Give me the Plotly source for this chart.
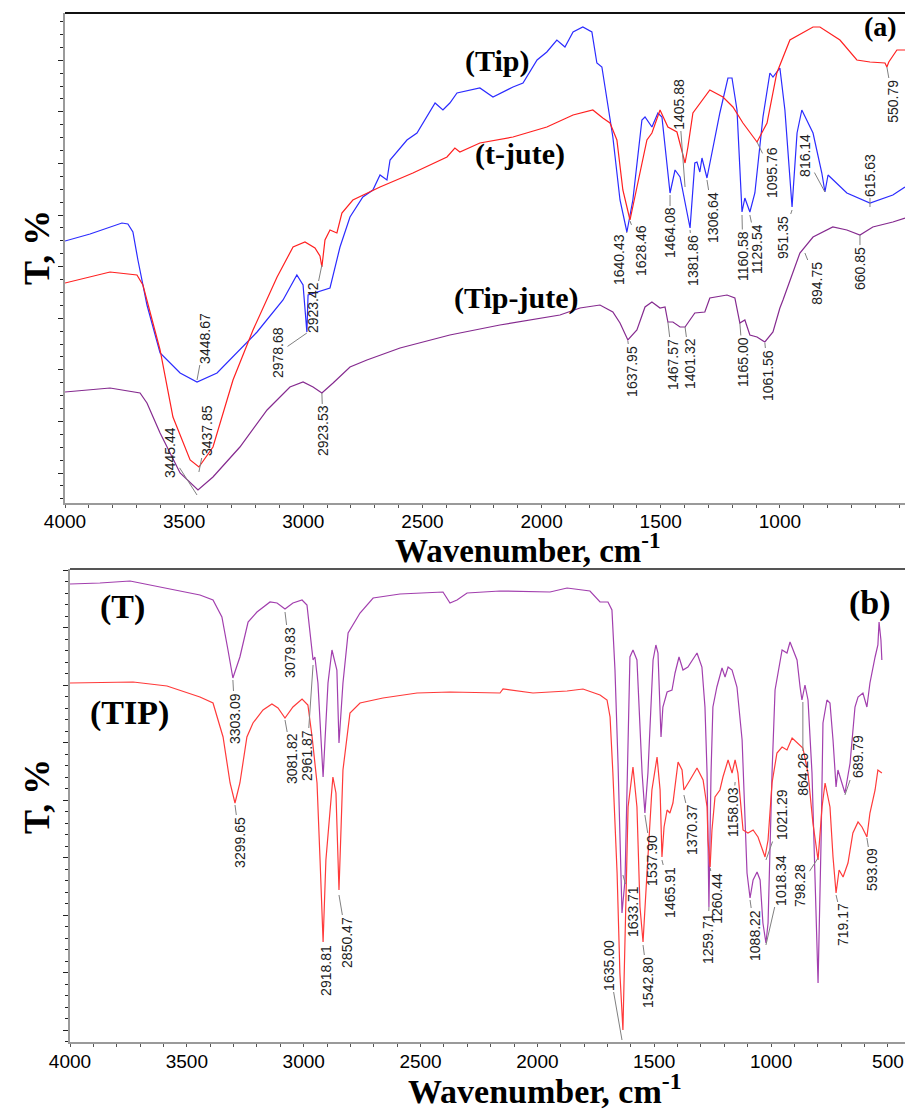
import plotly.graph_objects as go

# ---------------- DATA (wavenumber cm-1, transmittance in arbitrary % units) ----------------
# Panel (a)
tip_wn = [4000, 3895, 3761, 3736, 3715, 3694, 3656, 3601, 3517, 3446, 3362, 3266, 3194, 3085, 3027, 3001,
          2985, 2980, 2951, 2930, 2888, 2846, 2804, 2750, 2708, 2678, 2649, 2636, 2565, 2523, 2481, 2447,
          2414, 2385, 2355, 2259, 2204, 2120, 2078, 2019, 1978, 1936, 1902, 1868, 1827, 1789, 1768, 1747,
          1701, 1671, 1642, 1617, 1579, 1566, 1537, 1512, 1495, 1461, 1440, 1419, 1377, 1357, 1348, 1336,
          1327, 1306, 1252, 1218, 1201, 1180, 1159, 1147, 1126, 1105, 1071, 1042, 1029, 1000, 979, 949,
          928, 908, 861, 824, 811, 798, 719, 622, 526, 475]
tip_t = [52.4, 53.8, 56, 55.8, 54.2, 48.6, 39.6, 30, 26, 24.2, 26, 30.6, 34.2, 40.6, 45.6, 43.6,
         34.2, 41.6, 42, 42.4, 43, 51.2, 57.2, 61.2, 62.6, 65.6, 64.6, 68.6, 72.6, 74, 77.2, 80,
         78.6, 80, 82, 83, 81.2, 83.2, 84, 88.6, 90.2, 92.6, 91.2, 94.2, 95.2, 94.2, 88, 87.2,
         73.2, 60.6, 54.2, 60.6, 76.6, 77.2, 75.2, 78, 77.2, 62, 66.6, 65.2, 55, 68, 68.2, 66.2,
         69, 65, 78, 85, 85, 78.6, 58.2, 61, 58.2, 62, 77.2, 86, 85.2, 87, 78.6, 59.2,
         74, 78.6, 74, 66, 62.2, 65.6, 62, 60, 61.6, 63.2]

tjute_wn = [4000, 3811, 3698, 3673, 3601, 3547, 3475, 3438, 3379, 3295, 3211, 3110, 3043, 2993, 2951, 2930,
            2922, 2909, 2888, 2859, 2838, 2792, 2678, 2540, 2397, 2364, 2343, 2259, 2120, 1978, 1868, 1785,
            1743, 1713, 1684, 1659, 1629, 1600, 1558, 1537, 1503, 1470, 1432, 1398, 1386, 1365, 1294, 1239,
            1197, 1155, 1096, 1054, 1013, 958, 861, 832, 748, 677, 622, 559, 551, 543, 509, 475]
tjute_t = [44, 46.2, 45.6, 43.6, 30.6, 17.2, 8.6, 7.2, 11.2, 24.6, 34.6, 45.2, 51.2, 52.2, 51, 49.4,
           47.2, 52.6, 54.6, 54, 58, 60.6, 63.2, 66, 69.2, 71, 70.2, 72, 73.2, 75.2, 77.6, 78.6,
           77, 76, 72.6, 62.6, 56.6, 63.2, 72.6, 74, 78.6, 75.2, 74.2, 68, 71.2, 78, 82.6, 81.2,
           79.2, 76, 72.2, 76, 86, 92.6, 95.2, 95.2, 92.6, 88.6, 88.2, 88, 87.2, 88.2, 90.6, 90.6]

tipjute_wn = [4000, 3811, 3685, 3656, 3601, 3517, 3442, 3379, 3266, 3152, 3056, 3001, 2959, 2922, 2875, 2804,
              2733, 2594, 2385, 2175, 1923, 1839, 1755, 1701, 1671, 1638, 1600, 1566, 1537, 1503, 1482, 1470,
              1449, 1419, 1398, 1357, 1315, 1294, 1222, 1189, 1168, 1147, 1126, 1096, 1063, 1029, 1000, 987,
              916, 861, 778, 719, 664, 610, 526, 475]
tipjute_t = [22.2, 23, 22, 20, 14, 6, 2.6, 5.2, 11.2, 18.6, 23.2, 24.2, 23.2, 22, 24, 27.2,
             28.6, 31, 33.6, 35.6, 37.6, 39, 39.6, 38.2, 36, 32.6, 34.6, 39.2, 40.2, 39, 39.2, 36.2,
             36.2, 35.2, 35.2, 38, 38.2, 41, 41.6, 41, 36, 36.6, 33.6, 33.2, 32.2, 34.2, 39, 40.6,
             50, 53.2, 55.2, 54.6, 53.6, 55.2, 56.2, 57]

# Panel (b)
t_wn = [4000, 3872, 3743, 3658, 3559, 3444, 3388, 3350, 3324, 3303, 3273, 3238, 3200, 3144, 3114, 3080,
        3046, 3007, 2986, 2973, 2960, 2952, 2939, 2917, 2896, 2879, 2858, 2849, 2832, 2810, 2759, 2703,
        2588, 2404, 2374, 2344, 2301, 2160, 1946, 1873, 1775, 1732, 1698, 1681, 1668, 1655, 1647, 1638,
        1625, 1612, 1604, 1591, 1574, 1552, 1540, 1527, 1505, 1493, 1484, 1471, 1463, 1445, 1424, 1411,
        1394, 1377, 1356, 1317, 1296, 1283, 1274, 1266, 1257, 1249, 1232, 1210, 1197, 1184, 1167, 1146,
        1124, 1103, 1090, 1077, 1060, 1047, 1035, 1022, 1013, 996, 983, 953, 932, 919, 889, 876,
        868, 855, 842, 825, 804, 799, 786, 778, 761, 748, 735, 722, 714, 697, 684, 662,
        641, 628, 607, 590, 577, 555, 543, 538, 530, 526]
t_t = [91.6, 91.8, 92.2, 91.4, 90.4, 89.4, 88.4, 85, 78.4, 72.8, 77, 84, 86, 88, 87.8, 86.6,
       87.8, 88.4, 87.4, 81.8, 76.4, 77, 71.8, 53, 71.8, 78.4, 74.4, 59.8, 71.8, 81.8, 85.8, 88.8,
       89.6, 90, 87.8, 88.4, 89.8, 90.2, 90, 90.8, 90.2, 88, 88, 86.4, 74.4, 55.8, 38.4, 25.8,
       32.4, 56.4, 77, 78.4, 76.4, 53.8, 45.8, 53.8, 76.4, 79.4, 77.8, 61, 67, 70, 70.4, 73.8,
       77, 74.4, 75, 77.8, 75, 67, 53.8, 27, 53.8, 67, 71, 74.8, 73, 75, 74.4, 71,
       60.4, 33.8, 28.8, 32.4, 34, 32.4, 23.8, 19.8, 23.8, 53.8, 70.4, 78.4, 77.8, 80, 76.4, 71,
       68.4, 71.4, 68.4, 53.8, 20.4, 11.8, 40.4, 63.8, 68.4, 67.8, 60.4, 51, 54.4, 51.8, 49.8, 55.8,
       67, 69, 69.8, 67, 71.8, 77, 79.4, 84, 80.4, 76.4]

tip2_wn = [4000, 3730, 3585, 3444, 3388, 3345, 3315, 3294, 3273, 3243, 3217, 3174, 3136, 3110, 3080, 3046,
           3007, 2982, 2964, 2943, 2930, 2917, 2905, 2879, 2875, 2862, 2849, 2840, 2832, 2802, 2759, 2661,
           2515, 2374, 2160, 2147, 2019, 1873, 1805, 1732, 1702, 1689, 1677, 1659, 1647, 1634, 1625, 1612,
           1591, 1574, 1561, 1548, 1531, 1510, 1488, 1475, 1467, 1458, 1445, 1433, 1420, 1398, 1381, 1373,
           1347, 1317, 1291, 1274, 1270, 1261, 1253, 1240, 1219, 1206, 1184, 1167, 1154, 1142, 1120, 1099,
           1077, 1056, 1026, 1013, 996, 975, 953, 932, 910, 889, 864, 842, 821, 799, 782, 769,
           748, 735, 722, 709, 692, 671, 650, 628, 611, 590, 577, 555, 543, 526]
tip2_t = [71.8, 72, 71.2, 69, 67.8, 61, 51.8, 47.8, 51.8, 61, 63.8, 66.4, 67.6, 66.8, 64.8, 67,
          68.6, 67.4, 61, 51.8, 36.4, 20, 36.4, 52.4, 53, 49.8, 30.4, 43, 54.4, 65.8, 67.8, 68.8,
          69.8, 70, 69.8, 70.6, 69.8, 70.2, 70.6, 69.4, 68.4, 65, 53.8, 33.8, 13.8, 2.4, 20.4, 47,
          55, 47, 27, 20, 33.8, 50.4, 57, 50.4, 37, 43, 46.4, 45.8, 47.8, 56, 54.4, 50.4,
          52.4, 54.8, 52.4, 47, 40.4, 35, 42.4, 49, 50.4, 53, 56.4, 53.8, 56.4, 53.8, 42.4, 41.8,
          42.4, 41, 37, 40.4, 51.8, 57.8, 59, 58.4, 60.8, 59.8, 58.8, 53.8, 43.8, 36.4, 47, 51.8,
          47, 37, 29.8, 34.4, 33, 35.8, 41.8, 44, 43, 41, 45.8, 50.4, 54.4, 53.8]

# Peak labels: text, marked point (wn, T)
a_labels = ["3448.67", "3437.85", "3445.44", "2978.68", "2923.42", "2923.53", "1640.43", "1628.46",
            "1464.08", "1405.88", "1381.86", "1306.64", "1160.58", "1129.54", "1095.76", "951.35",
            "816.14", "615.63", "550.79", "894.75", "660.85", "1637.95", "1467.57", "1401.32",
            "1165.00", "1061.56"]
a_peak_wn = [3446, 3438, 3446, 2985, 2922, 2922, 1642, 1629, 1461, 1398, 1377, 1306, 1159, 1126, 1096, 949,
             811, 622, 551, 895, 664, 1638, 1470, 1398, 1168, 1063]
a_peak_t = [24.6, 6.2, 1.6, 34, 47.6, 22, 54.2, 56.4, 61.6, 63.2, 54.6, 64.6, 57.6, 57.6, 72.2, 58.6,
            62.2, 59.2, 87.2, 50, 53.6, 32.4, 36.2, 35.2, 36, 32]

b_labels = ["3303.09", "3079.83", "3081.82", "2961.87", "3299.65", "2918.81", "2850.47", "1635.00",
            "1633.71", "1542.80", "1537.90", "1465.91", "1370.37", "1259.71", "1260.44", "1158.03",
            "1021.29", "1088.22", "1018.34", "864.26", "798.28", "689.79", "719.17", "593.09"]
b_peak_wn = [3303, 3080, 3080, 2960, 3294, 2917, 2849, 1638, 1634, 1548, 1540, 1467, 1373, 1266, 1261, 1154,
             1022, 1090, 1022, 864, 799, 684, 722, 590]
b_peak_t = [72.4, 86, 64.4, 75.4, 47.4, 19.8, 29.4, 0.4, 33.4, 19.4, 45.4, 36.4, 49.4, 27, 34.8, 52,
            36.4, 28.4, 19.4, 68, 36.8, 49.4, 29.4, 40.8]

x_ticks_a = [4000, 3500, 3000, 2500, 2000, 1500, 1000]
x_ticks_b = [4000, 3500, 3000, 2500, 2000, 1500, 1000, 500]

# ---------------- LAYOUT / STYLE ----------------
# label text positions (wn, T) - placement only
a_text_pos = [(3413, 33), (3404, 14.4), (3559, 10), (3106, 30), (2959, 39), (2917, 14.4), (1675, 48.6),
              (1583, 50.6), (1461, 54), (1424, 79.8), (1365, 48.6), (1281, 57.2), (1155, 49.4), (1096, 50.8),
              (1033, 66), (987, 53.2), (895, 69.6), (622, 65.6), (526, 80.4), (845, 44), (664, 47),
              (1621, 26.4), (1449, 27.8), (1377, 27.8), (1155, 28.2), (1050, 25.6)]
b_text_pos = [(3294, 64.8), (3059, 78), (3050, 56.6), (2986, 57.4), (3273, 40), (2905, 14.4), (2815, 20),
              (1694, 15.4), (1591, 26.2), (1527, 12), (1510, 36.4), (1433, 30), (1338, 42.4), (1270, 20.8),
              (1232, 28.8), (1163, 46), (953, 45.4), (1069, 21.4), (958, 32.4), (864, 53.6), (876, 31.2),
              (628, 57), (692, 23.4), (568, 34.4)]

W, H = 905, 1110
xa_dom = [65 / W, 1.0]
ya_dom = [1 - 503 / H, 1 - 13 / H]
xb_dom = [70 / W, 1.0]
yb_dom = [1 - 1042 / H, 1 - 569 / H]

fig = go.Figure()
lw = 1.2
fig.add_trace(go.Scatter(x=tip_wn, y=tip_t, mode="lines", line=dict(color="#2b2bff", width=lw),
                         xaxis="x", yaxis="y", name="Tip"))
fig.add_trace(go.Scatter(x=tjute_wn, y=tjute_t, mode="lines", line=dict(color="#ff2020", width=lw),
                         xaxis="x", yaxis="y", name="t-jute"))
fig.add_trace(go.Scatter(x=tipjute_wn, y=tipjute_t, mode="lines", line=dict(color="#852a8f", width=lw),
                         xaxis="x", yaxis="y", name="Tip-jute"))
fig.add_trace(go.Scatter(x=t_wn, y=t_t, mode="lines", line=dict(color="#a23fae", width=lw),
                         xaxis="x2", yaxis="y2", name="T"))
fig.add_trace(go.Scatter(x=tip2_wn, y=tip2_t, mode="lines", line=dict(color="#ff3a3a", width=lw),
                         xaxis="x2", yaxis="y2", name="TIP"))

tickfont = dict(family="Liberation Sans", size=19, color="black")
axis_common = dict(showgrid=False, zeroline=False, showline=True, linecolor="#9a9a9a", linewidth=2,
                   automargin=False)

fig.update_layout(
    width=W, height=H, margin=dict(l=0, r=0, t=0, b=0),
    plot_bgcolor="white", paper_bgcolor="white", showlegend=False,
    xaxis=dict(domain=xa_dom, range=[4000, 475], anchor="y", tickvals=x_ticks_a,
               ticktext=[str(v) for v in x_ticks_a], ticks="outside", ticklen=3, tickcolor="#555",
               tickfont=tickfont, ticklabelstandoff=-3,
               minor=dict(tickvals=list(range(500, 4001, 100)), ticks="outside", ticklen=3, tickcolor="#555"),
               **axis_common),
    yaxis=dict(domain=ya_dom, range=[0, 98], anchor="x", showticklabels=False, ticks="outside",
               ticklen=5, tickcolor="#222", tick0=6, dtick=10.32,
               minor=dict(ticks="outside", ticklen=3, tickcolor="#222", tick0=6, dtick=2.58),
               **axis_common),
    xaxis2=dict(domain=xb_dom, range=[4000, 427], anchor="y2", tickvals=x_ticks_b,
                ticktext=[str(v) for v in x_ticks_b], ticks="outside", ticklen=3, tickcolor="#555",
                tickfont=tickfont, ticklabelstandoff=-2,
                minor=dict(tickvals=list(range(500, 4001, 100)), ticks="outside", ticklen=3, tickcolor="#555"),
                **axis_common),
    yaxis2=dict(domain=yb_dom, range=[0, 94.6], anchor="x2", showticklabels=False, ticks="outside",
                ticklen=5, tickcolor="#222", tick0=2.4, dtick=11.5,
                minor=dict(ticks="outside", ticklen=3, tickcolor="#222", tick0=2.4, dtick=2.3),
                **axis_common),
)

# top frame lines
fig.add_shape(type="line", xref="paper", yref="paper", x0=xa_dom[0], x1=1, y0=ya_dom[1], y1=ya_dom[1],
              line=dict(color="#111", width=2))
fig.add_shape(type="line", xref="paper", yref="paper", x0=xb_dom[0], x1=1, y0=yb_dom[1], y1=yb_dom[1],
              line=dict(color="#555", width=2))

peak_font = dict(family="Liberation Sans", size=14, color="#222")


def add_peaks(labels, pwn, pt, tpos, xr, yr):
    for lab, x, y, (tx, ty) in zip(labels, pwn, pt, tpos):
        fig.add_annotation(x=x, y=y, xref=xr, yref=yr, ax=tx, ay=ty, axref=xr, ayref=yr,
                           text=lab, textangle=-90, font=peak_font, showarrow=True,
                           arrowhead=0, arrowwidth=1, arrowcolor="#808080", standoff=0,
                           startstandoff=0)


add_peaks(a_labels, a_peak_wn, a_peak_t, a_text_pos, "x", "y")
add_peaks(b_labels, b_peak_wn, b_peak_t, b_text_pos, "x2", "y2")

serif = "Liberation Serif"


def ptxt(text, px, py, size, angle=0):
    fig.add_annotation(x=px / W, y=1 - py / H, xref="paper", yref="paper", text=text, showarrow=False,
                       textangle=angle, xanchor="center", yanchor="middle",
                       font=dict(family=serif, size=size, color="black", weight="bold"))


ptxt("(Tip)", 497, 61, 30)
ptxt("(t-jute)", 520, 154, 30)
ptxt("(Tip-jute)", 516, 298, 30)
ptxt("(a)", 880, 27, 28)
ptxt("(T)", 122, 607, 34)
ptxt("(TIP)", 129, 713, 34)
ptxt("(b)", 870, 603, 34)
ptxt("Wavenumber, cm<sup>-1</sup>", 528, 548, 33)
ptxt("Wavenumber, cm<sup>-1</sup>", 545, 1089, 34)
ptxt("T, %", 37, 248, 36, -90)
ptxt("T, %", 37, 797, 36, -90)

fig.write_html("out.html", config={"displayModeBar": False},
               post_script="document.body.style.margin='0';document.body.style.overflow='hidden';")
